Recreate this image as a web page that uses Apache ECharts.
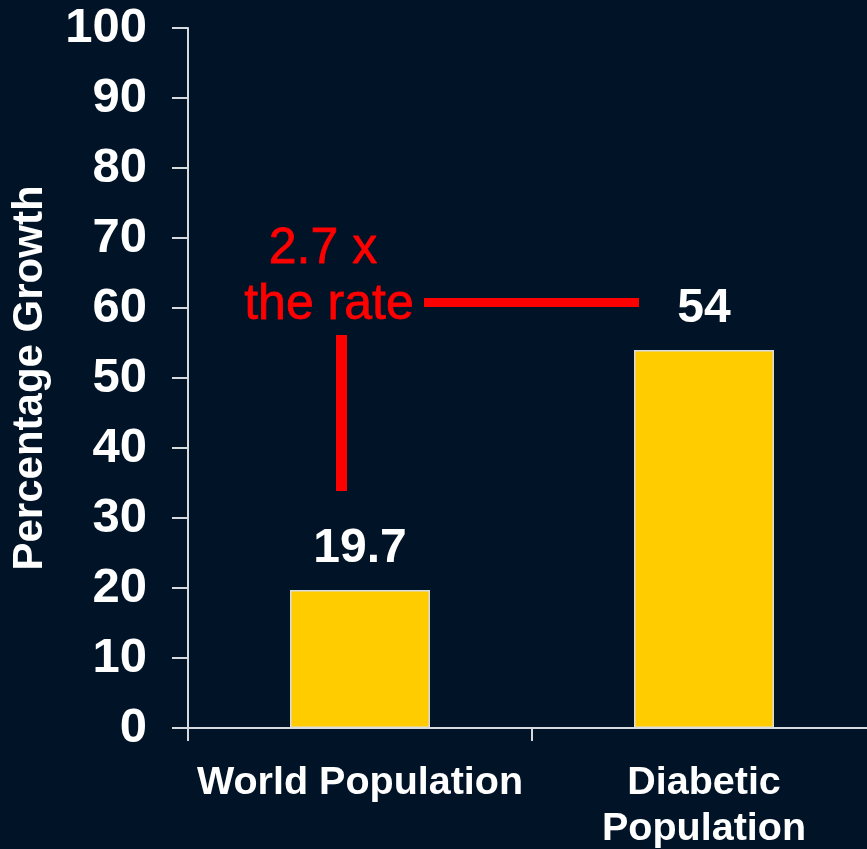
<!DOCTYPE html>
<html>
<head>
<meta charset="utf-8">
<script src="https://cdn.jsdelivr.net/npm/echarts@6/dist/echarts.min.js"></script>
<style>
  html, body { margin: 0; padding: 0; background: #011427; }
  #chart { width: 867px; height: 849px; }
</style>
</head>
<body>
<div id="chart"></div>
<script>
// Growth in world vs. diabetic population
const categories = ['World Population', 'Diabetic\nPopulation'];
const growthValues = [19.7, 54];
const yTicks = { min: 0, max: 100, interval: 10 };
const axisTitle = 'Percentage Growth';
const noteLines = ['2.7 x', 'the rate'];

const FONT = '"Liberation Sans", Arial, Helvetica, sans-serif';
const chart = echarts.init(document.getElementById('chart'));

const noteStyle = {
  fill: '#ff0000', font: '50px ' + FONT,
  align: 'center', verticalAlign: 'top',
  stroke: '#ff0000', lineWidth: 0.8
};

chart.setOption({
  backgroundColor: '#011427',
  animation: false,
  // the plot runs a little past the right edge, so the last category tick is cut off
  grid: {
    left: 188, top: 28, width: 688, height: 700,
    containLabel: false, outerBoundsMode: 'none'
  },
  xAxis: {
    type: 'category',
    data: categories,
    axisLine: { lineStyle: { color: '#d6d9de', width: 2 } },
    axisTick: { show: true, length: 13, lineStyle: { color: '#d6d9de', width: 2 } },
    axisLabel: {
      color: '#ffffff', fontFamily: FONT, fontWeight: 'bold', fontSize: 39.5,
      lineHeight: 46, margin: 32, interval: 0
    },
    splitLine: { show: false }
  },
  yAxis: {
    type: 'value',
    min: yTicks.min, max: yTicks.max, interval: yTicks.interval,
    name: axisTitle,
    nameLocation: 'middle',
    nameGap: 137,
    nameTextStyle: { color: '#ffffff', fontFamily: FONT, fontWeight: 'bold', fontSize: 42 },
    axisLine: { show: true, lineStyle: { color: '#d6d9de', width: 2 } },
    axisTick: { show: true, length: 16, lineStyle: { color: '#d6d9de', width: 2 } },
    axisLabel: { color: '#ffffff', fontFamily: FONT, fontWeight: 'bold', fontSize: 49, margin: 41 },
    splitLine: { show: false }
  },
  series: [{
    type: 'bar',
    data: growthValues,
    barWidth: 140,
    itemStyle: { color: '#ffcc00', borderColor: '#d9dde2', borderWidth: 1.5 },
    label: {
      show: true, position: 'top', distance: 17,
      color: '#ffffff', fontFamily: FONT, fontWeight: 'bold', fontSize: 48
    }
  }],
  graphic: [
    { type: 'text', x: 323, y: 224, style: Object.assign({ text: noteLines[0] }, noteStyle) },
    { type: 'text', x: 329, y: 280, style: Object.assign({ text: noteLines[1] }, noteStyle) },
    { type: 'rect', shape: { x: 424, y: 298, width: 215, height: 9 }, style: { fill: '#ff0000' } },
    { type: 'rect', shape: { x: 336, y: 335, width: 11, height: 156 }, style: { fill: '#ff0000' } }
  ]
});
</script>
</body>
</html>
